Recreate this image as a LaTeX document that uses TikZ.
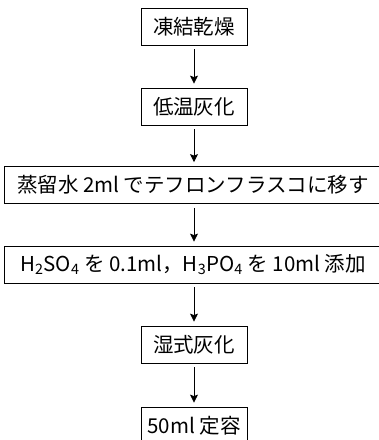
\documentclass[tikz,border=0pt]{standalone}
\usepackage{fontspec}
\setmainfont{Noto Sans CJK JP}
\usetikzlibrary{arrows.meta}
\tikzset{
  stepbox/.style={draw, line width=0.8pt, inner sep=0pt, minimum height=37pt,
    font=\fontsize{20.5}{20.5}\selectfont},
  narrowbox/.style={stepbox, minimum width=106pt},
  widebox/.style={stepbox, minimum width=378pt},
  flow/.style={-{Stealth[length=8pt,width=8pt,inset=1.5pt]}, line width=0.8pt,
    shorten <=4pt, shorten >=4pt}
}

\begin{document}
\begin{tikzpicture}[x=1pt,y=-1pt]
	\useasboundingbox (0,0) rectangle (379,440);
	% steps
	\node[narrowbox] (freeze) at (194,26.5) {凍結乾燥};
	\node[narrowbox] (lowash) at (194,106.5) {低温灰化};
	\node[widebox] (transfer) at (193,185) {蒸留水 2ml でテフロンフラスコに移す};
	\node[widebox] (acid) at (193,264.5) {H\textsubscript{2}SO\textsubscript{4} を 0.1ml，H\textsubscript{3}PO\textsubscript{4} を 10ml 添加};
	\node[narrowbox] (wetash) at (194,344.5) {湿式灰化};
	\node[narrowbox] (volume) at (194,425.5) {50ml 定容};
	% arrows
	\draw[flow] (freeze) -- (lowash);
	\draw[flow] (lowash.south) -- (lowash.south |- transfer.north);
	\draw[flow] (transfer.south -| lowash.south) -- (acid.north -| lowash.south);
	\draw[flow] (acid.south -| wetash.north) -- (wetash.north);
	\draw[flow] (wetash) -- (volume);
\end{tikzpicture}
\end{document}
